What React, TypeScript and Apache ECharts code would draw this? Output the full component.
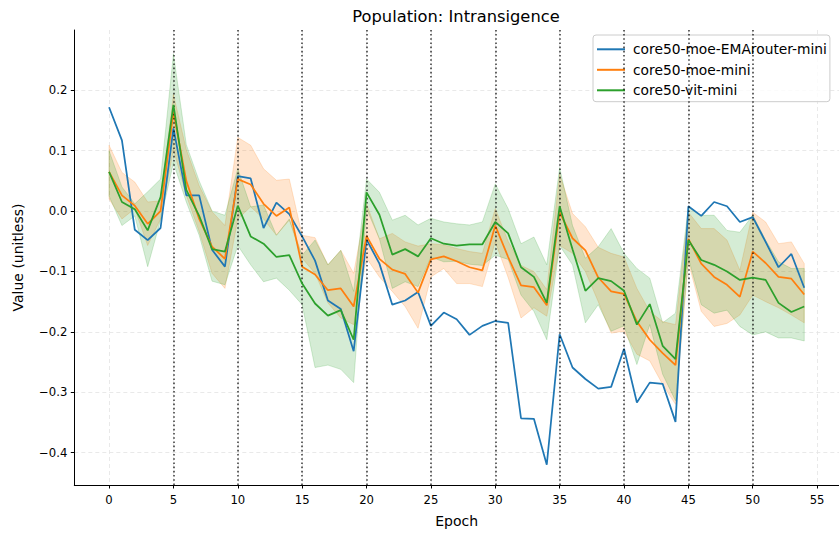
import React, { useEffect, useRef } from "react";
import * as echarts from "echarts";

const epochs = [
  0, 1, 2, 3, 4, 5, 6, 7, 8, 9, 10, 11, 12, 13, 14, 15, 16, 17, 18, 19, 20, 21, 22, 23, 24, 25, 26, 27,
  28, 29, 30, 31, 32, 33, 34, 35, 36, 37, 38, 39, 40, 41, 42, 43, 44, 45, 46, 47, 48, 49, 50, 51, 52, 53, 54,
];

const seriesNames = ["core50-moe-EMArouter-mini", "core50-moe-mini", "core50-vit-mini"];

const emaRouter = [
  0.172, 0.117, -0.031, -0.048, -0.028, 0.137, 0.026, 0.026, -0.064, -0.092,
  0.058, 0.054, -0.028, 0.014, -0.005, -0.042, -0.082, -0.148, -0.162, -0.232,
  -0.047, -0.087, -0.155, -0.148, -0.134, -0.19, -0.168, -0.179, -0.205, -0.19,
  -0.182, -0.185, -0.343, -0.344, -0.42, -0.204, -0.259, -0.278, -0.294, -0.291,
  -0.228, -0.317, -0.284, -0.286, -0.349, 0.008, -0.008, 0.015, 0.008, -0.018,
  -0.01, -0.051, -0.093, -0.071, -0.127,
];

const moeMini = [
  0.065, 0.026, 0.009, -0.021, 0.0, 0.164, 0.05, -0.013, -0.059, -0.079,
  0.053, 0.044, 0.012, -0.008, 0.006, -0.092, -0.105, -0.131, -0.128, -0.158,
  -0.041, -0.079, -0.097, -0.104, -0.135, -0.08, -0.075, -0.083, -0.093, -0.098,
  -0.024, -0.076, -0.123, -0.126, -0.156, -0.002, -0.045, -0.065, -0.11, -0.133,
  -0.137, -0.183, -0.213, -0.235, -0.255, -0.046, -0.087, -0.109, -0.122, -0.142,
  -0.067, -0.086, -0.109, -0.112, -0.138,
];

const moeMiniLow = [
  0.02, -0.013, 0.004, -0.057, -0.013, 0.102, 0.026, -0.034, -0.103, -0.128,
  -0.013, 0.007, -0.013, -0.04, -0.015, -0.078, -0.103, -0.152, -0.177, -0.188,
  -0.078, -0.109, -0.133, -0.158, -0.194, -0.109, -0.095, -0.12, -0.12, -0.125,
  -0.051, -0.11, -0.177, -0.16, -0.174, -0.057, -0.07, -0.1, -0.15, -0.202,
  -0.199, -0.237, -0.248, -0.287, -0.32, -0.084, -0.166, -0.191, -0.186, -0.172,
  -0.139, -0.15, -0.16, -0.172, -0.185,
];

const moeMiniHigh = [
  0.109, 0.064, 0.048, 0.015, 0.017, 0.193, 0.102, 0.042, -0.001, -0.024,
  0.122, 0.109, 0.07, 0.051, 0.053, -0.04, -0.044, -0.089, -0.065, -0.103,
  0.012, -0.046, -0.037, -0.051, -0.058, -0.054, -0.056, -0.062, -0.067, -0.07,
  0.004, -0.05, -0.09, -0.1, -0.13, 0.061, -0.004, -0.026, -0.06, -0.07,
  -0.076, -0.128, -0.166, -0.183, -0.188, -0.002, -0.029, -0.029, -0.048, -0.098,
  -0.002, -0.018, -0.054, -0.051, -0.087,
];

const vitMini = [
  0.065, 0.015, 0.003, -0.032, 0.023, 0.176, 0.035, -0.008, -0.063, -0.067,
  0.009, -0.042, -0.054, -0.076, -0.073, -0.12, -0.153, -0.173, -0.164, -0.213,
  0.031, -0.006, -0.072, -0.063, -0.075, -0.045, -0.054, -0.057, -0.055, -0.055,
  -0.018, -0.037, -0.093, -0.109, -0.152, 0.008, -0.063, -0.132, -0.111, -0.116,
  -0.132, -0.188, -0.154, -0.223, -0.245, -0.048, -0.081, -0.089, -0.1, -0.114,
  -0.11, -0.114, -0.152, -0.167, -0.158,
];

const vitMiniLow = [
  0.025, -0.024, -0.008, -0.092, -0.015, 0.08, 0.015, -0.04, -0.116, -0.122,
  -0.057, -0.089, -0.117, -0.111, -0.131, -0.155, -0.259, -0.255, -0.262, -0.284,
  0.004, -0.046, -0.128, -0.117, -0.125, -0.076, -0.084, -0.083, -0.088, -0.09,
  -0.073, -0.08, -0.139, -0.166, -0.213, -0.057, -0.089, -0.185, -0.155, -0.199,
  -0.19, -0.254, -0.188, -0.27, -0.314, -0.078, -0.155, -0.169, -0.164, -0.191,
  -0.205, -0.2, -0.21, -0.21, -0.215,
];

const vitMiniHigh = [
  0.1, 0.04, 0.012, 0.032, 0.053, 0.26, 0.11, 0.05, 0.0, -0.007,
  0.07, 0.007, 0.01, -0.04, -0.013, -0.073, -0.048, -0.089, -0.065, -0.133,
  0.053, 0.031, -0.015, -0.007, -0.023, -0.012, -0.018, -0.021, -0.023, -0.018,
  0.045, 0.004, -0.054, -0.043, -0.089, 0.072, -0.024, -0.078, -0.059, -0.029,
  -0.07, -0.095, -0.111, -0.185, -0.169, 0.007, -0.007, -0.007, -0.032, -0.035,
  -0.007, -0.048, -0.084, -0.095, -0.095,
];

const phaseBoundaries = [5, 10, 15, 20, 25, 30, 35, 40, 45, 50];
const xTicks = [0, 5, 10, 15, 20, 25, 30, 35, 40, 45, 50, 55];
const yTicks = [-0.4, -0.3, -0.2, -0.1, 0.0, 0.1, 0.2];

const FONT = "DejaVu Sans";
const COLORS = ["#1f77b4", "#ff7f0e", "#2ca02c"];

function bandSeries(name: string, low: number[], high: number[], fill: string, z: number) {
  return {
    type: "custom",
    name,
    silent: true,
    z,
    data: epochs.map((e, i) => [e, low[i], high[i]]),
    encode: { x: 0, y: [1, 2] },
    renderItem: (params: any, api: any) => {
      if (params.dataIndex !== 0) return null;
      const top = epochs.map((e, i) => api.coord([e, high[i]]));
      const bottom = epochs.map((e, i) => api.coord([e, low[i]])).reverse();
      return {
        type: "polygon",
        silent: true,
        shape: { points: top.concat(bottom) },
        style: { fill, stroke: fill, lineWidth: 1 },
      };
    },
  };
}

function lineSeries(name: string, values: number[], color: string, z: number, extra: any = {}) {
  return {
    type: "line",
    name,
    data: epochs.map((e, i) => [e, values[i]]),
    color,
    showSymbol: false,
    symbol: "none",
    silent: true,
    z,
    lineStyle: { color, width: 1.75 },
    emphasis: { disabled: true },
    ...extra,
  };
}

const fmtY = (v: number) => {
  const r = Math.round(v * 10) / 10;
  const s = Math.abs(r).toFixed(1);
  return r < 0 ? "\u2212" + s : s;
};

export default function App() {
  const ref = useRef<HTMLDivElement>(null);
  useEffect(() => {
    if (!ref.current) return;
    const chart = echarts.init(ref.current, null, { renderer: "svg" });
    const gridLine = { show: true, lineStyle: { color: "#e3e3e3", type: [4, 3], width: 0.8 } };
    chart.setOption({
      animation: false,
      backgroundColor: "#ffffff",
      textStyle: { fontFamily: FONT },
      graphic: [
        {
          type: "text",
          x: 456,
          y: 16,
          silent: true,
          style: {
            text: "Population: Intransigence",
            fontFamily: FONT,
            fontSize: 16.3,
            fill: "#000",
            textAlign: "center",
            textVerticalAlign: "middle",
          },
        },
      ],
      grid: { left: 74.3, right: -4.5, top: 30, bottom: 45, containLabel: false },
      legend: {
        data: seriesNames,
        orient: "vertical",
        left: 593,
        top: 35,
        icon: "rect",
        itemWidth: 28,
        itemHeight: 2,
        itemGap: 6.5,
        padding: [7.3, 3, 4.4, 4],
        backgroundColor: "rgba(255,255,255,0.8)",
        borderColor: "#cccccc",
        borderWidth: 1,
        borderRadius: 3,
        textStyle: { fontFamily: FONT, fontSize: 13.8, color: "#000", lineHeight: 14, padding: [0, 0, 0, 3] },
        selectedMode: false,
      },
      xAxis: {
        type: "value",
        min: -2.7,
        max: 56.7,
        name: "Epoch",
        nameLocation: "middle",
        nameGap: 29,
        nameTextStyle: { fontFamily: FONT, fontSize: 14, color: "#000" },
        axisLine: { show: true, onZero: false, lineStyle: { color: "#000", width: 1 } },
        axisTick: { show: true, length: 3.5, customValues: xTicks, lineStyle: { color: "#000", width: 1 } },
        axisLabel: {
          customValues: xTicks,
          fontFamily: FONT,
          fontSize: 11.65,
          color: "#000",
          margin: 9,
        },
        splitLine: gridLine,
      },
      yAxis: {
        type: "value",
        min: -0.4535,
        max: 0.2998,
        name: "Value (unitless)",
        nameLocation: "middle",
        nameGap: 49,
        nameRotate: 90,
        nameTextStyle: { fontFamily: FONT, fontSize: 14, color: "#000" },
        axisLine: { show: true, onZero: false, lineStyle: { color: "#000", width: 1 } },
        axisTick: { show: true, length: 3.5, customValues: yTicks, lineStyle: { color: "#000", width: 1 } },
        axisLabel: {
          customValues: yTicks,
          formatter: fmtY,
          fontFamily: FONT,
          fontSize: 11.65,
          color: "#000",
          margin: 7,
        },
        splitLine: gridLine,
      },
      series: [
        bandSeries("moe band", moeMiniLow, moeMiniHigh, "rgba(255,127,14,0.2)", 1),
        bandSeries("vit band", vitMiniLow, vitMiniHigh, "rgba(44,160,44,0.2)", 2),
        lineSeries(seriesNames[0], emaRouter, COLORS[0], 3),
        lineSeries(seriesNames[1], moeMini, COLORS[1], 4),
        lineSeries(seriesNames[2], vitMini, COLORS[2], 5, {
          markLine: {
            silent: true,
            symbol: ["none", "none"],
            label: { show: false },
            emphasis: { disabled: true },
            lineStyle: { color: "rgba(0,0,0,0.75)", type: [1.6, 2.6], width: 1.6 },
            data: phaseBoundaries.map((v) => ({ xAxis: v })),
          },
        }),
      ],
    });
    return () => chart.dispose();
  }, []);
  return (
    <div
      ref={ref}
      style={{ position: "fixed", left: 0, top: 0, width: 839, height: 533, background: "#fff" }}
    />
  );
}
